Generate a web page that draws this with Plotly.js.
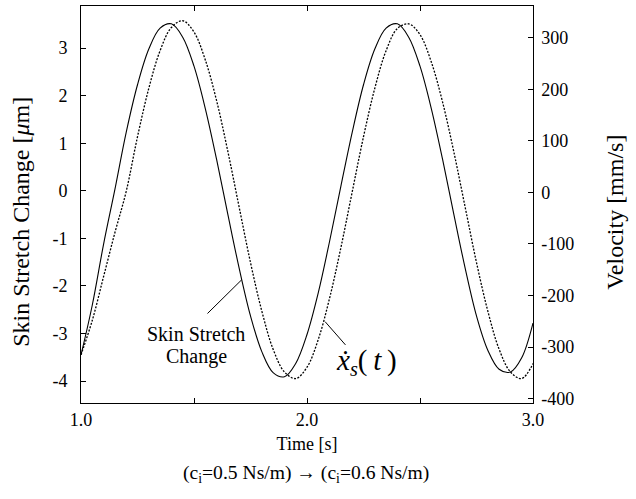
<!DOCTYPE html>
<html>
<head>
<meta charset="utf-8">
<script src="https://cdn.plot.ly/plotly-3.0.1.min.js"></script>
<style>html,body{margin:0;padding:0;background:#fff;}#chart{width:636px;height:499px;}</style>
</head>
<body>
<div id="chart"></div>
<script>
// time [s]
const time = [1.00,1.05,1.10,1.15,1.20,1.25,1.30,1.35,1.40,1.45,1.50,1.55,1.60,1.65,1.70,1.75,1.80,1.85,1.90,1.95,
              2.00,2.05,2.10,2.15,2.20,2.25,2.30,2.35,2.40,2.45,2.50,2.55,2.60,2.65,2.70,2.75,2.80,2.85,2.90,2.95,3.00];
// Skin stretch change [um] (left axis)
const skinStretch = [-3.45,-2.40,-1.12,0.03,1.23,2.23,2.98,3.42,3.51,3.23,2.62,1.73,0.66,-0.50,-1.63,-2.63,-3.38,-3.82,-3.91,-3.63,
                     -3.02,-2.14,-1.06,0.10,1.23,2.23,2.98,3.42,3.51,3.23,2.62,1.73,0.66,-0.50,-1.63,-2.63,-3.35,-3.75,-3.81,-3.51,-2.78];
// Velocity x_s'(t) [mm/s] (right axis)
const velocity = [-315,-248,-163,-78,2,108,202,275,320,333,311,257,178,79,-29,-136,-230,-304,-348,-361,
                  -339,-285,-205,-107,1,108,202,275,318,327,306,253,175,78,-29,-136,-230,-304,-348,-361,-332];

const xTickVals = [1.0,1.5,2.0,2.5,3.0];
const xTickText = ['1.0','','2.0','','3.0'];
const yTickVals = [-4,-3,-2,-1,0,1,2,3];
const yTickText = ['-4','-3','-2','-1','0','1','2','3'];
const y2TickVals = [-400,-300,-200,-100,0,100,200,300];
const y2TickText = ['-400','-300','-200','-100','0','100','200','300'];

const FONT = 'Liberation Serif';

const traces = [
  {x: time, y: skinStretch, type: 'scatter', mode: 'lines', yaxis: 'y',
   line: {color: '#000', width: 1.1, shape: 'spline'}, hoverinfo: 'skip'},
  {x: time, y: velocity, type: 'scatter', mode: 'lines', yaxis: 'y2',
   line: {color: '#000', width: 1.3, shape: 'spline', dash: '2px,1.5px'}, hoverinfo: 'skip'}
];

const axisCommon = {
  showgrid: false, zeroline: false, showline: true, linecolor: '#000', linewidth: 1,
  ticks: 'inside', ticklen: 5, tickwidth: 1, tickcolor: '#000',
  tickfont: {family: FONT, size: 18, color: '#000'}
};

const layout = {
  width: 636, height: 499,
  margin: {l: 81, r: 103, t: 6, b: 96, pad: 0},
  paper_bgcolor: '#fff', plot_bgcolor: '#fff',
  showlegend: false,
  font: {family: FONT, color: '#000'},
  xaxis: Object.assign({}, axisCommon, {
    range: [1, 3], tickvals: xTickVals, ticktext: xTickText, mirror: 'ticks',
    title: {text: 'Time [s]', font: {family: FONT, size: 18, color: '#000'}, standoff: 8}
  }),
  yaxis: Object.assign({}, axisCommon, {
    range: [-4.46, 3.885], tickvals: yTickVals,
    ticktext: yTickText.map(function (s) { return s + '\u2002'; })
  }),
  yaxis2: Object.assign({}, axisCommon, {
    overlaying: 'y', side: 'right',
    range: [-408.4, 361.6], tickvals: y2TickVals,
    ticktext: y2TickText.map(function (s) { return '\u2009' + s; })
  }),
  annotations: [
    {x: -0.133, y: 0.456, xref: 'paper', yref: 'paper', text: 'Skin Stretch Change [<i>μ</i>m]',
     textangle: -90, showarrow: false, xanchor: 'center', yanchor: 'middle',
     font: {family: FONT, size: 24, color: '#000'}},
    {x: 1.181, y: 0.481, xref: 'paper', yref: 'paper', text: 'Velocity [mm/s]',
     textangle: -90, showarrow: false, xanchor: 'center', yanchor: 'middle',
     font: {family: FONT, size: 24, color: '#000'}},
    {x: 1.711, y: -1.87, xref: 'x', yref: 'y', ax: 1.553, ay: -2.61, axref: 'x', ayref: 'y',
     text: '', showarrow: true, arrowhead: 0, arrowwidth: 1, arrowcolor: '#000', standoff: 0, startstandoff: 0},
    {x: 2.080, y: -2.75, xref: 'x', yref: 'y', ax: 2.176, ay: -3.27, axref: 'x', ayref: 'y',
     text: '', showarrow: true, arrowhead: 0, arrowwidth: 1, arrowcolor: '#000', standoff: 0, startstandoff: 0},
    {x: 1.511, y: -3.006, xref: 'x', yref: 'y', text: 'Skin Stretch', showarrow: false,
     font: {family: FONT, size: 20, color: '#000'}, xanchor: 'center', yanchor: 'middle'},
    {x: 1.511, y: -3.49, xref: 'x', yref: 'y', text: 'Change', showarrow: false,
     font: {family: FONT, size: 20, color: '#000'}, xanchor: 'center', yanchor: 'middle'},
    {x: 2.262, y: -3.59, xref: 'x', yref: 'y',
     text: '<i>ẋ</i><sub><i>s</i></sub>(\u2009<i>t</i>\u2009)', showarrow: false,
     font: {family: FONT, size: 29, color: '#000'}, xanchor: 'center', yanchor: 'middle'},
    {x: 0.4978, y: -0.1777, xref: 'paper', yref: 'paper',
     text: '(c<sub>i</sub>=0.5 Ns/m) → (c<sub>i</sub>=0.6 Ns/m)', showarrow: false,
     font: {family: FONT, size: 19.6, color: '#000'}, xanchor: 'center', yanchor: 'middle'}
  ]
};

Plotly.newPlot('chart', traces, layout, {staticPlot: true, displayModeBar: false});
</script>
</body>
</html>
